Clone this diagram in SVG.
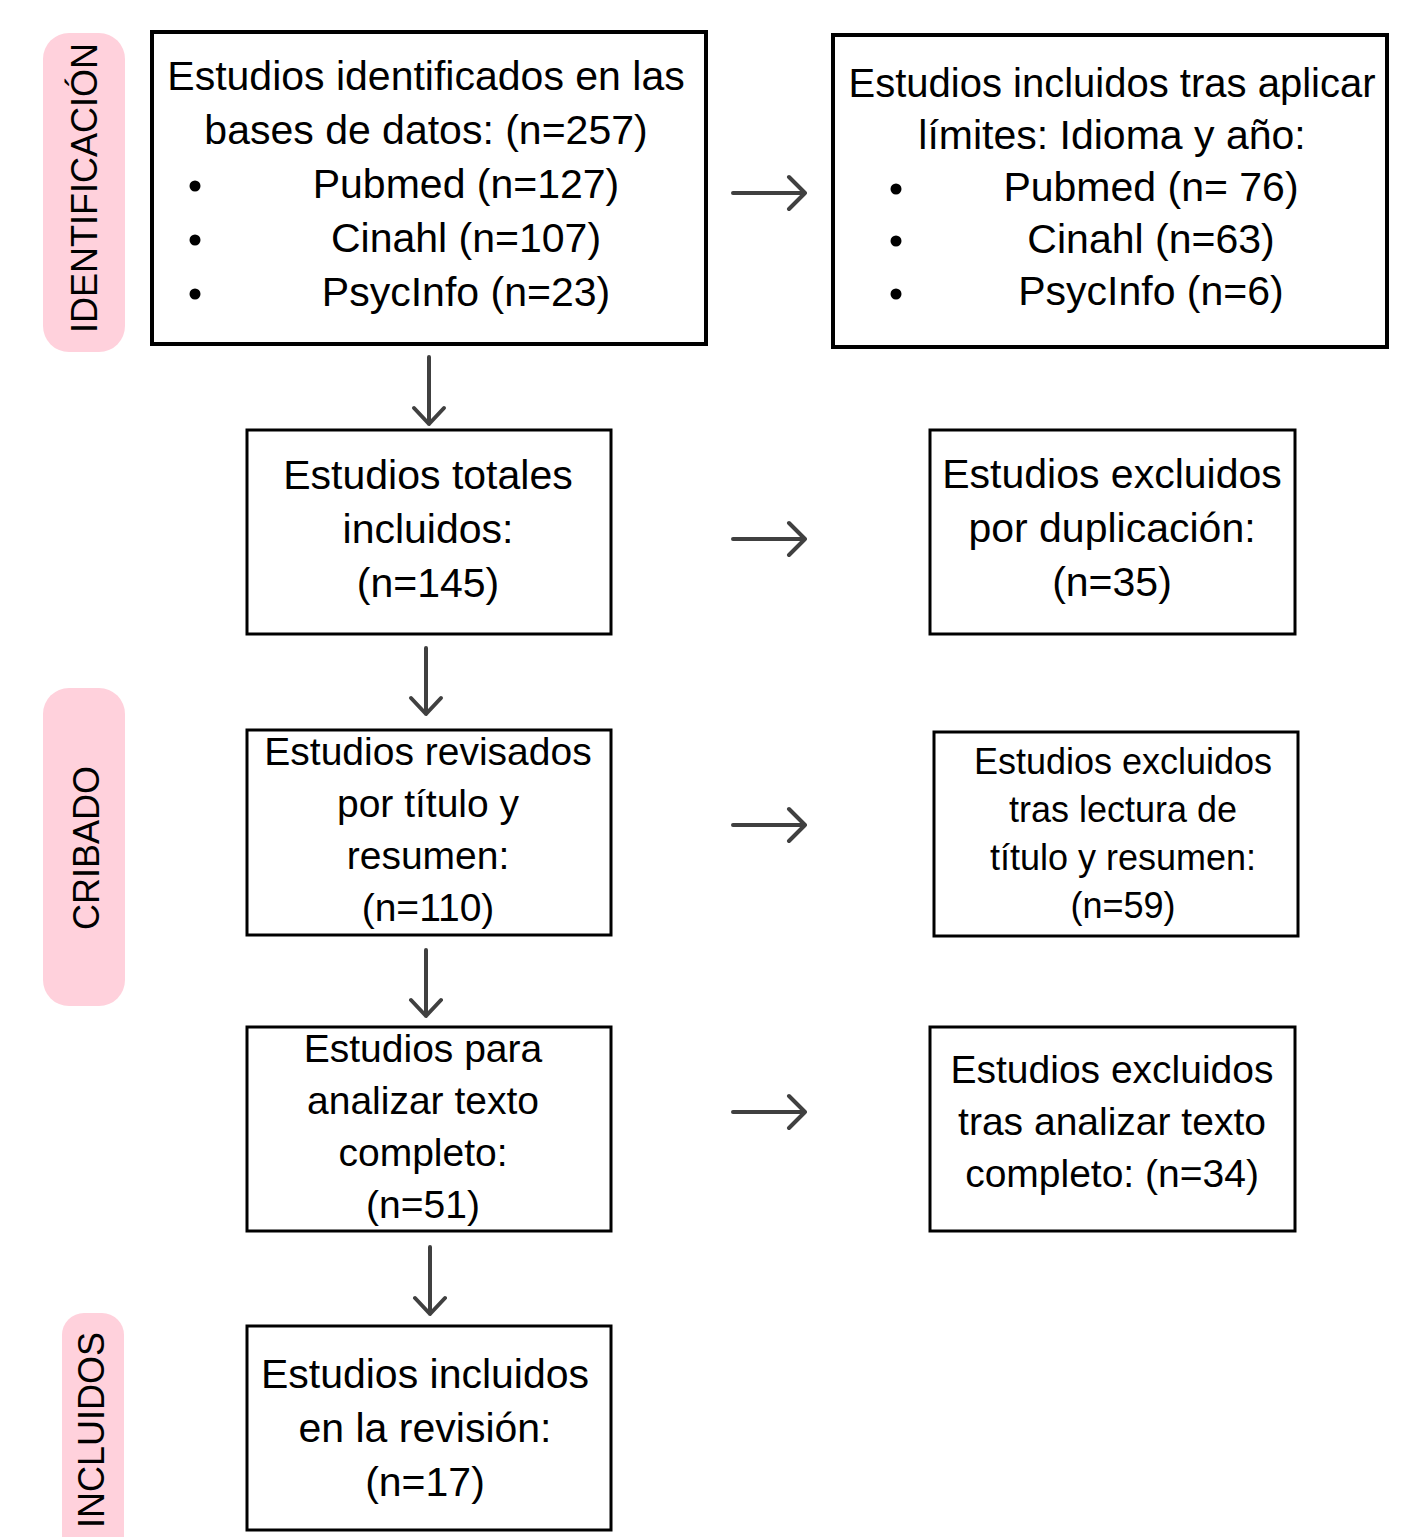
<svg xmlns="http://www.w3.org/2000/svg" width="1405" height="1537" viewBox="0 0 1405 1537">
<defs>
<style>
.side{fill:#FFD1DC;}
.sl{font-family:"Liberation Sans",Arial,sans-serif;font-size:36px;fill:#000;text-anchor:middle;}
.box{fill:#fff;stroke:#000;stroke-width:3;}
.boxb{fill:#fff;stroke:#000;stroke-width:4;}
.t{font-family:"Liberation Sans",Arial,sans-serif;fill:#000;text-anchor:middle;}
.f41{font-size:41px;}
.f39{font-size:39px;}
.f36{font-size:36px;}
.arr{fill:none;stroke:#404040;stroke-width:4;stroke-linecap:round;stroke-linejoin:round;}
</style>
</defs>
<rect width="1405" height="1537" fill="#fff"/>
<g id="lbl-identificacion">
<rect class="side" x="43" y="33" width="82" height="319" rx="26"/>
<text class="sl" transform="translate(97,188) rotate(-90)">IDENTIFICACIÓN</text>
</g>
<g id="lbl-cribado">
<rect class="side" x="43" y="688" width="82" height="318" rx="26"/>
<text class="sl" transform="translate(99,848) rotate(-90)">CRIBADO</text>
</g>
<g id="lbl-incluidos">
<rect class="side" x="62" y="1313" width="62" height="260" rx="22"/>
<text class="sl" transform="translate(104,1430) rotate(-90)">INCLUIDOS</text>
</g>
<g id="n1">
<rect class="boxb" x="152" y="32" width="554" height="312"/>
<text class="t f41" x="426" y="90">Estudios identificados en las</text>
<text class="t f41" x="426" y="144">bases de datos: (n=257)</text>
<circle cx="195" cy="186" r="5.5"/>
<circle cx="195" cy="240" r="5.5"/>
<circle cx="195" cy="294" r="5.5"/>
<text class="t f41" x="466" y="198">Pubmed (n=127)</text>
<text class="t f41" x="466" y="252">Cinahl (n=107)</text>
<text class="t f41" x="466" y="306">PsycInfo (n=23)</text>
</g>
<g id="n2">
<rect class="boxb" x="833" y="35" width="554" height="312"/>
<text class="t f41" x="1112" y="97" textLength="527" lengthAdjust="spacingAndGlyphs">Estudios incluidos tras aplicar</text>
<text class="t f41" x="1112" y="149">límites: Idioma y año:</text>
<circle cx="896" cy="189" r="5.5"/>
<circle cx="896" cy="241" r="5.5"/>
<circle cx="896" cy="294" r="5.5"/>
<text class="t f41" x="1151" y="201">Pubmed (n= 76)</text>
<text class="t f41" x="1151" y="253">Cinahl (n=63)</text>
<text class="t f41" x="1151" y="305">PsycInfo (n=6)</text>
</g>
<g id="n3">
<rect class="box" x="247" y="430" width="364" height="204"/>
<text class="t f41" x="428" y="489">Estudios totales</text>
<text class="t f41" x="428" y="543">incluidos:</text>
<text class="t f41" x="428" y="597">(n=145)</text>
</g>
<g id="n4">
<rect class="box" x="930" y="430" width="365" height="204"/>
<text class="t f41" x="1112" y="488">Estudios excluidos</text>
<text class="t f41" x="1112" y="542">por duplicación:</text>
<text class="t f41" x="1112" y="596">(n=35)</text>
</g>
<g id="n5">
<rect class="box" x="247" y="730" width="364" height="205"/>
<text class="t f39" x="428" y="765">Estudios revisados</text>
<text class="t f39" x="428" y="817">por título y</text>
<text class="t f39" x="428" y="869">resumen:</text>
<text class="t f39" x="428" y="921">(n=110)</text>
</g>
<g id="n6">
<rect class="box" x="934" y="732" width="364" height="204"/>
<text class="t f36" x="1123" y="774">Estudios excluidos</text>
<text class="t f36" x="1123" y="822">tras lectura de</text>
<text class="t f36" x="1123" y="870">título y resumen:</text>
<text class="t f36" x="1123" y="918">(n=59)</text>
</g>
<g id="n7">
<rect class="box" x="247" y="1027" width="364" height="204"/>
<text class="t f39" x="423" y="1062">Estudios para</text>
<text class="t f39" x="423" y="1114">analizar texto</text>
<text class="t f39" x="423" y="1166">completo:</text>
<text class="t f39" x="423" y="1218">(n=51)</text>
</g>
<g id="n8">
<rect class="box" x="930" y="1027" width="365" height="204"/>
<text class="t f39" x="1112" y="1083">Estudios excluidos</text>
<text class="t f39" x="1112" y="1135">tras analizar texto</text>
<text class="t f39" x="1112" y="1187">completo: (n=34)</text>
</g>
<g id="n9">
<rect class="box" x="247" y="1326" width="364" height="204"/>
<text class="t f41" x="425" y="1388">Estudios incluidos</text>
<text class="t f41" x="425" y="1442">en la revisión:</text>
<text class="t f41" x="425" y="1496">(n=17)</text>
</g>
<g id="connectors">
<path class="arr" d="M733,193 H805 M789,177 L805,193 L789,209"/>
<path class="arr" d="M733,539 H805 M789,523 L805,539 L789,555"/>
<path class="arr" d="M733,825 H805 M789,809 L805,825 L789,841"/>
<path class="arr" d="M733,1112 H805 M789,1096 L805,1112 L789,1128"/>
<path class="arr" d="M429,357 V424 M414,408 L429,424 L444,408"/>
<path class="arr" d="M426,648 V714 M411,698 L426,714 L441,698"/>
<path class="arr" d="M426,950 V1016 M411,1000 L426,1016 L441,1000"/>
<path class="arr" d="M430,1247 V1314 M415,1298 L430,1314 L445,1298"/>
</g>
</svg>
